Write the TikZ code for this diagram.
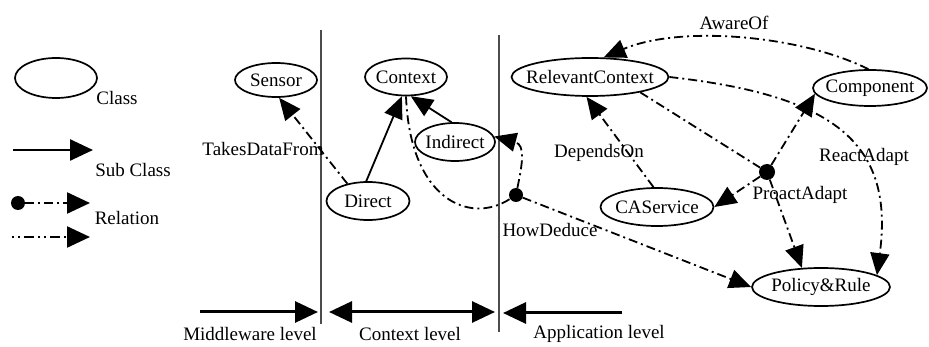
\documentclass[tikz,border=0pt]{standalone}
\usepackage{fontspec}
\setmainfont{Liberation Serif}
\usetikzlibrary{arrows.meta}
\usetikzlibrary{shapes.geometric}
\tikzset{
	cls/.style={ellipse,draw,line width=1.7pt,inner sep=0pt,minimum height=37pt},
	relline/.style={line width=1.8pt,dash pattern=on 9pt off 4pt on 2pt off 4pt},
	reltip/.tip={Triangle[length=22pt,width=19pt]},
	rel/.style={relline,-reltip},
	sub/.style={line width=1.8pt,-reltip},
	dotn/.style={circle,fill,inner sep=0pt,minimum size=14pt},
	lvl/.style={line width=3pt},
	lvltip/.tip={Triangle[length=23pt,width=21pt]},
	txt/.style={inner sep=0pt},
}

\begin{document}
\begin{tikzpicture}[x=1pt,y=-1pt,font=\fontsize{19}{22}\selectfont]
					\useasboundingbox (0,0) rectangle (929,347);
					\node[cls,minimum width=82pt,minimum height=40pt] (legcls) at (56,78) {};
					\node[txt] (legclst) at (117,98) {Class};
					\coordinate (legsa) at (13,150);
					\coordinate (legsb) at (93,150);
					\draw[line width=2.6pt,-lvltip] (legsa)--(legsb);
					\node[txt] (legsubt) at (133,170) {Sub Class};
					\node[dotn] (legdot) at (18,203) {};
					\coordinate (legrb) at (90,203);
					\draw[relline,line width=2.4pt,-lvltip] (legdot)--(legrb);
					\node[txt] (legrelt) at (127,218) {Relation};
					\coordinate (legqa) at (12,237);
					\coordinate (legqb) at (90,237);
					\draw[line width=2.4pt,-lvltip,dash pattern=on 2pt off 4pt on 2pt off 4pt on 10pt off 4pt] (legqa)--(legqb);
					\coordinate (lina) at (321,30);
					\coordinate (linb) at (321,324);
					\coordinate (linc) at (499,35);
					\coordinate (lind) at (499,332);
					\draw[line width=1.5pt,black!70] (lina)--(linb);
					\draw[line width=1.5pt,black!70] (linc)--(lind);
					\coordinate (mwa) at (200,312);
					\coordinate (mwb) at (318,312);
					\coordinate (cxa) at (329,312);
					\coordinate (cxb) at (495,312);
					\coordinate (apa) at (622,313);
					\coordinate (apb) at (503,313);
					\draw[lvl,-lvltip] (mwa)--(mwb);
					\draw[lvl,lvltip-lvltip] (cxa)--(cxb);
					\draw[lvl,-lvltip] (apa)--(apb);
					\node[txt] (mwt) at (250,334) {Middleware level};
					\node[txt] (cxt) at (410,334) {Context level};
					\node[txt] (apt) at (599,334) {Application level};
					\node[cls,minimum width=82pt,minimum height=34pt] (sensor) at (276,80) {\makebox[0pt]{Sensor}};
					\node[cls,minimum width=82pt] (context) at (406,77) {\makebox[0pt]{Context}};
					\node[cls,minimum width=80pt,minimum height=38pt] (indirect) at (455,142) {\makebox[0pt]{Indirect}};
					\node[cls,minimum width=83pt,minimum height=38pt] (direct) at (368,201) {\makebox[0pt]{Direct}};
					\node[cls,minimum width=157pt,minimum height=38pt] (relctx) at (590,77) {\makebox[0pt]{RelevantContext}};
					\node[cls,minimum width=114pt,minimum height=36pt] (comp) at (870,88) {\makebox[0pt]{Component}};
					\node[cls,minimum width=113pt,minimum height=38pt] (casrv) at (657,207) {\makebox[0pt]{CAService}};
					\node[cls,minimum width=138pt,minimum height=38pt] (policy) at (821,287) {\makebox[0pt]{Policy\&Rule}};
					\node[dotn] (howdot) at (516,195) {};
					\node[dotn,minimum size=16pt] (prodot) at (767,172) {};
					\draw[rel] (direct.140)--(sensor.-80);
					\draw[sub] (direct.95)--(context.-102);
					\draw[sub] (indirect.100)--(context.-76);
					\draw[relline] (context.-90) .. controls (410,200) and (470,225) .. (howdot);
					\draw[rel] (howdot) .. controls (522,165) and (526,145) .. (indirect.8);
					\draw[rel] (howdot)--(policy.west);
					\draw[rel] (comp.95) .. controls (800,35) and (680,25) .. (relctx.55);
					\draw[rel] (casrv.100)--(relctx.-100);
					\draw[relline] (relctx.-17)--(prodot);
					\draw[rel] (prodot)--(comp.186);
					\draw[rel] (prodot)--(casrv.east);
					\draw[rel] (prodot)--(policy.135);
					\draw[rel] (relctx.east) .. controls (830,95) and (895,140) .. (policy.12);
					\node[txt] (takest) at (263,149) {TakesDataFrom};
					\node[txt] (dependst) at (599,153) {DependsOn};
					\node[txt] (awaret) at (734,23) {AwareOf};
					\node[txt] (reactt) at (864,157) {ReactAdapt};
					\node[txt] (proactt) at (800,195) {ProactAdapt};
					\node[txt] (howt) at (550,230) {HowDeduce};
				\end{tikzpicture}
\end{document}
